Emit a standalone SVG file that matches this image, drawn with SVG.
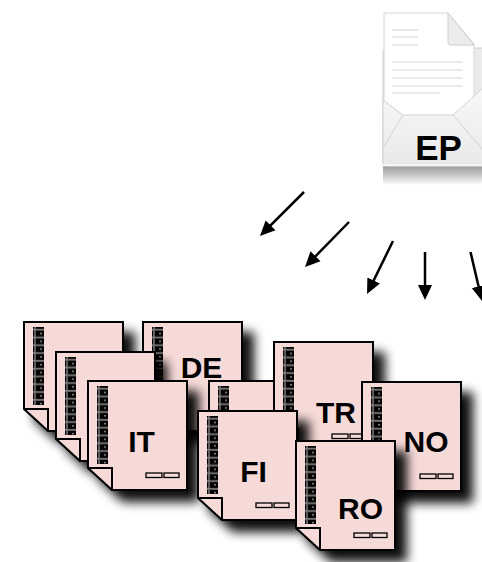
<svg xmlns="http://www.w3.org/2000/svg" xmlns:xlink="http://www.w3.org/1999/xlink" width="482" height="562" viewBox="0 0 482 562">
  <style>
    .page { fill: #f6dad8; stroke: #000; stroke-width: 2; stroke-linejoin: miter; }
    .flap { fill: none; stroke: #000; stroke-width: 2; }
    .mark { fill: #f6dad8; stroke: #000; stroke-width: 1.3; }
    .lbl { font-family: "Liberation Sans", Arial, sans-serif; font-weight: bold; font-size: 30px; text-anchor: middle; fill: #000; }
    .eplbl { font-family: "Liberation Sans", Arial, sans-serif; font-weight: bold; font-size: 35px; text-anchor: middle; fill: #000; }
    .pline { stroke: #e4e4e4; stroke-width: 1.6; }
    .conn { stroke: #000; stroke-width: 2.5; fill: none; }
  </style>
  <defs>
    <!-- comb binding: one black slot per 7.8px -->
    <pattern id="bind" patternUnits="userSpaceOnUse" x="0" y="0" width="11" height="7.8">
      <rect x="0.5" y="0.5" width="10" height="6.6" fill="#050505" stroke="#555" stroke-width="0.7"/>
      <rect x="5.2" y="3" width="1.6" height="1.3" fill="#bbb"/>
    </pattern>
    <filter id="drop" x="-25%" y="-25%" width="160%" height="160%">
      <feGaussianBlur in="SourceAlpha" stdDeviation="5.5"/>
      <feOffset dx="11" dy="11"/>
      <feComponentTransfer><feFuncA type="linear" slope="0.95"/></feComponentTransfer>
      <feMerge><feMergeNode/><feMergeNode in="SourceGraphic"/></feMerge>
    </filter>
    <!-- a bound page with a folded lower-left corner -->
    <g id="page">
      <path class="page" d="M0,0 H99 V109 H24 L0,87 Z"/>
      <path class="flap" d="M0,87 H24 V109"/>
      <rect x="9" y="5" width="11" height="78" fill="url(#bind)"/>
      <rect class="mark" x="58" y="92" width="16" height="4.5"/>
      <rect class="mark" x="76" y="92" width="15" height="4.5"/>
    </g>
    <marker id="head" markerUnits="userSpaceOnUse" markerWidth="16" markerHeight="16" viewBox="0 0 16 16" refX="11" refY="8" orient="auto">
      <path d="M0,1 L15,8 L0,15 Z" fill="#000"/>
    </marker>
    <linearGradient id="epShadow" x1="0" y1="0" x2="0" y2="1">
      <stop offset="0" stop-color="#9c9c9c"/>
      <stop offset="0.45" stop-color="#c4c4c4"/>
      <stop offset="1" stop-color="#ffffff"/>
    </linearGradient>
    <linearGradient id="pocket" x1="0" y1="0" x2="0" y2="1">
      <stop offset="0" stop-color="#f8f8f8"/>
      <stop offset="1" stop-color="#e9e9e9"/>
    </linearGradient>
  </defs>

  <rect width="482" height="562" fill="#fff"/>

  <!-- EP envelope -->
  <g id="ep">
    <rect x="383" y="166" width="100" height="19" fill="url(#epShadow)"/>
    <rect x="383" y="48" width="110" height="118" rx="4" fill="#ebebeb" stroke="#cdcdcd"/>
    <path d="M384,13 H448 L474,44 V125 H384 Z" fill="#fff" stroke="#d6d6d6"/>
    <path d="M448,13 V42 Q448,45 451,45 H474 Z" fill="#ececec" stroke="#cfcfcf"/>
    <line class="pline" x1="392" y1="30" x2="418" y2="30"/>
    <line class="pline" x1="392" y1="37" x2="418" y2="37"/>
    <line class="pline" x1="392" y1="45" x2="418" y2="45"/>
    <line class="pline" x1="392" y1="62" x2="462" y2="62"/>
    <line class="pline" x1="392" y1="70" x2="462" y2="70"/>
    <line class="pline" x1="392" y1="78" x2="462" y2="78"/>
    <line class="pline" x1="392" y1="86" x2="462" y2="86"/>
    <line class="pline" x1="392" y1="93" x2="440" y2="93"/>
    <path d="M383,100 L403,115 H453 L483,88 V166 H383 Z" fill="url(#pocket)" stroke="#d2d2d2"/>
    <path d="M403,115 L383,148 M453,115 L483,150" stroke="#d2d2d2" fill="none"/>
    <line x1="383" y1="165" x2="483" y2="165" stroke="#fafafa" stroke-width="1.5"/>
    <text class="eplbl" x="438.5" y="160">EP</text>
  </g>

  <!-- connectors -->
  <g id="connectors" class="conn" marker-end="url(#head)">
    <line x1="304" y1="192" x2="262.8" y2="233.2"/>
    <line x1="349" y1="222" x2="307.8" y2="264.1"/>
    <line x1="393" y1="241" x2="368.8" y2="290.4"/>
    <line x1="425" y1="252" x2="425" y2="296"/>
    <line x1="470.5" y1="252" x2="481.1" y2="297.1"/>
  </g>

  <!-- pages, back to front -->
  <g id="doc-a"><use xlink:href="#page" x="24" y="322" filter="url(#drop)"/></g>
  <g id="doc-de"><use xlink:href="#page" x="143" y="322" filter="url(#drop)"/><text class="lbl" x="201.5" y="378">DE</text></g>
  <g id="doc-b"><use xlink:href="#page" x="56" y="352" filter="url(#drop)"/></g>
  <g id="doc-it"><use xlink:href="#page" x="88" y="381" filter="url(#drop)"/><text class="lbl" x="141.5" y="452">IT</text></g>
  <g id="doc-g"><use xlink:href="#page" x="209" y="381" filter="url(#drop)"/></g>
  <g id="doc-tr"><use xlink:href="#page" x="274" y="342" filter="url(#drop)"/><text class="lbl" x="336" y="423">TR</text></g>
  <g id="doc-fi"><use xlink:href="#page" x="198" y="411" filter="url(#drop)"/><text class="lbl" x="253.5" y="482">FI</text></g>
  <g id="doc-no"><use xlink:href="#page" x="362" y="382" filter="url(#drop)"/><text class="lbl" x="426" y="452">NO</text></g>
  <g id="doc-ro"><use xlink:href="#page" x="296" y="441" filter="url(#drop)"/><text class="lbl" x="360.5" y="519">RO</text></g>
</svg>
